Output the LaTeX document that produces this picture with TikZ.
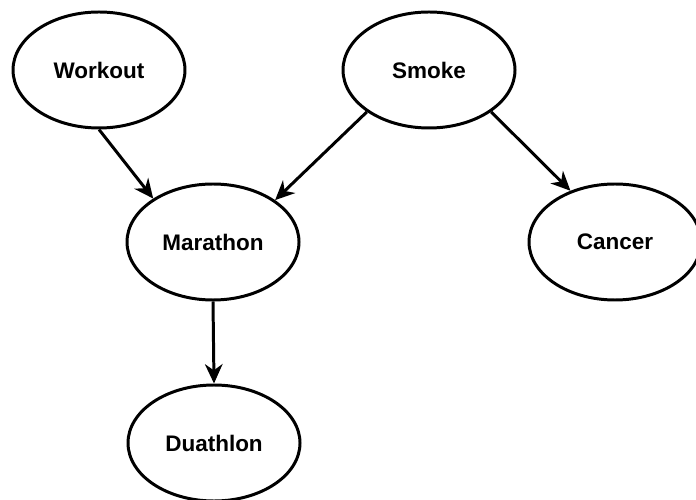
\documentclass[tikz,border=0pt]{standalone}
\usepackage{fontspec}
\setmainfont{Liberation Sans}
\usetikzlibrary{arrows.meta, shapes.geometric}

\begin{document}
\begin{tikzpicture}[
    % GLOBAL CFG
    font=\fontsize{12.8}{15}\selectfont\bfseries,
    >={Stealth[length=11pt, width=10pt, inset=3.5pt]},
    % Styles
    var/.style={% For the variables
        ellipse,
        draw,
        line width=1.7pt,
        minimum width=3.44cm,
        minimum height=2.32cm,
        inner sep=1pt
        },
    ArrowC1/.style={% Straight arrows
        line width=1.7pt,
        },
    ]

    % Fix the margins
    \useasboundingbox (0,0) rectangle (13.92,-10);

    % Draw the variables
    \node[var] (workout)  at (1.98,-1.40)  {Workout};
    \node[var] (smoke)    at (8.58,-1.40)  {Smoke};
    \node[var] (marathon) at (4.26,-4.84)  {Marathon};
    \node[var] (cancer)   at (12.30,-4.84) {Cancer};
    \node[var] (duathlon) at (4.28,-8.86)  {Duathlon};

% Start connecting all.
    \draw [->,ArrowC1] (workout.south) -- (marathon.144);
    \draw [->,ArrowC1] (smoke.214) -- (marathon.34);
    \draw [->,ArrowC1] (smoke.326) -- (cancer.131);
    \draw [->,ArrowC1] (marathon.south) -- (duathlon.north);

\end{tikzpicture}
\end{document}
